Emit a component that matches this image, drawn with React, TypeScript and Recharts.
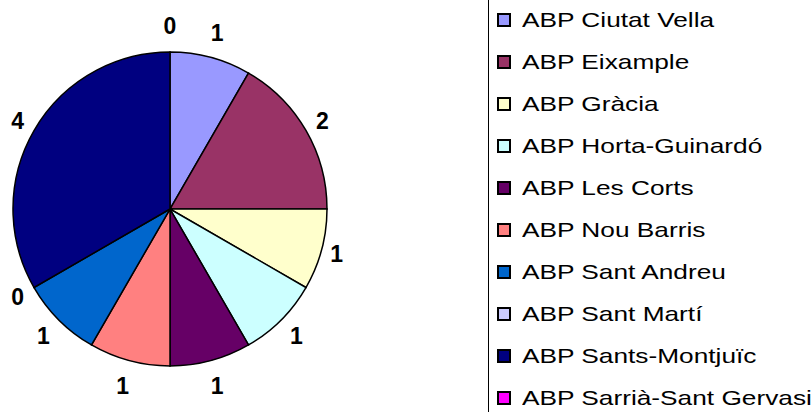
import React from "react";
import { PieChart, Pie, Cell, Legend } from "recharts";

// ABP districts and their counts
const districts = [
  "ABP Ciutat Vella",
  "ABP Eixample",
  "ABP Gràcia",
  "ABP Horta-Guinardó",
  "ABP Les Corts",
  "ABP Nou Barris",
  "ABP Sant Andreu",
  "ABP Sant Martí",
  "ABP Sants-Montjuïc",
  "ABP Sarrià-Sant Gervasi",
];
const counts = [1, 2, 1, 1, 1, 1, 1, 0, 4, 0];
const colors = [
  "#9999FF",
  "#993366",
  "#FFFFCC",
  "#CCFFFF",
  "#660066",
  "#FF8080",
  "#0066CC",
  "#CCCCFF",
  "#000080",
  "#FF00FF",
];

const data = districts.map((name, i) => ({ name, value: counts[i] }));

const RADIAN = Math.PI / 180;

function renderLabel(props: any) {
  const { cx, cy, midAngle, outerRadius, value } = props;
  const vx = Math.cos(-midAngle * RADIAN);
  const vy = Math.sin(-midAngle * RADIAN);
  const r = outerRadius + 12 + 14 * Math.abs(vy);
  const x = cx + r * vx;
  const y = cy + r * vy;
  return (
    <text
      x={x}
      y={y}
      dy="0.358em"
      textAnchor="middle"
      fill="#000"
      fontFamily="'Liberation Sans', Arial, sans-serif"
      fontWeight="bold"
      fontSize={23}
    >
      {value}
    </text>
  );
}

function LegendBox(props: any) {
  const { payload } = props;
  return (
    <div
      style={{
        width: 340,
        height: 416,
        border: "1px solid #000",
        boxSizing: "border-box",
        background: "#fff",
        position: "relative",
      }}
    >
      {(payload || []).map((entry: any, i: number) => (
        <div
          key={i}
          style={{
            position: "absolute",
            left: 8,
            top: 21 + i * 42 - 11,
            height: 22,
            display: "flex",
            alignItems: "center",
            whiteSpace: "nowrap",
          }}
        >
          <span
            style={{
              display: "inline-block",
              width: 14,
              height: 14,
              boxSizing: "border-box",
              border: "2px solid #000",
              background: entry.color,
              marginRight: 11,
            }}
          />
          <span
            style={{
              display: "inline-block",
              fontFamily: "'Liberation Sans', Arial, sans-serif",
              fontSize: 21,
              color: "#000",
              transform: "scaleX(1.25)",
              transformOrigin: "left center",
              lineHeight: "22px",
            }}
          >
            {entry.value}
          </span>
        </div>
      ))}
    </div>
  );
}

export default function App() {
  return (
    <div style={{ position: "absolute", left: 0, top: 0, width: 812, height: 412, background: "#fff", overflow: "hidden" }}>
      <PieChart width={812} height={412} margin={{ top: 0, right: 0, bottom: 0, left: 0 }}>
        <Pie
          data={data}
          dataKey="value"
          nameKey="name"
          cx={170}
          cy={209}
          outerRadius={157}
          startAngle={90}
          endAngle={-270}
          stroke="#000"
          strokeWidth={1.5}
          label={renderLabel}
          labelLine={false}
          isAnimationActive={false}
        >
          {data.map((d, i) => (
            <Cell key={d.name} fill={colors[i]} />
          ))}
        </Pie>
        <Legend
          layout="vertical"
          align="right"
          verticalAlign="top"
          content={<LegendBox />}
          wrapperStyle={{ position: "absolute", left: 488, top: -2, width: 340, height: 416 }}
        />
      </PieChart>
    </div>
  );
}
